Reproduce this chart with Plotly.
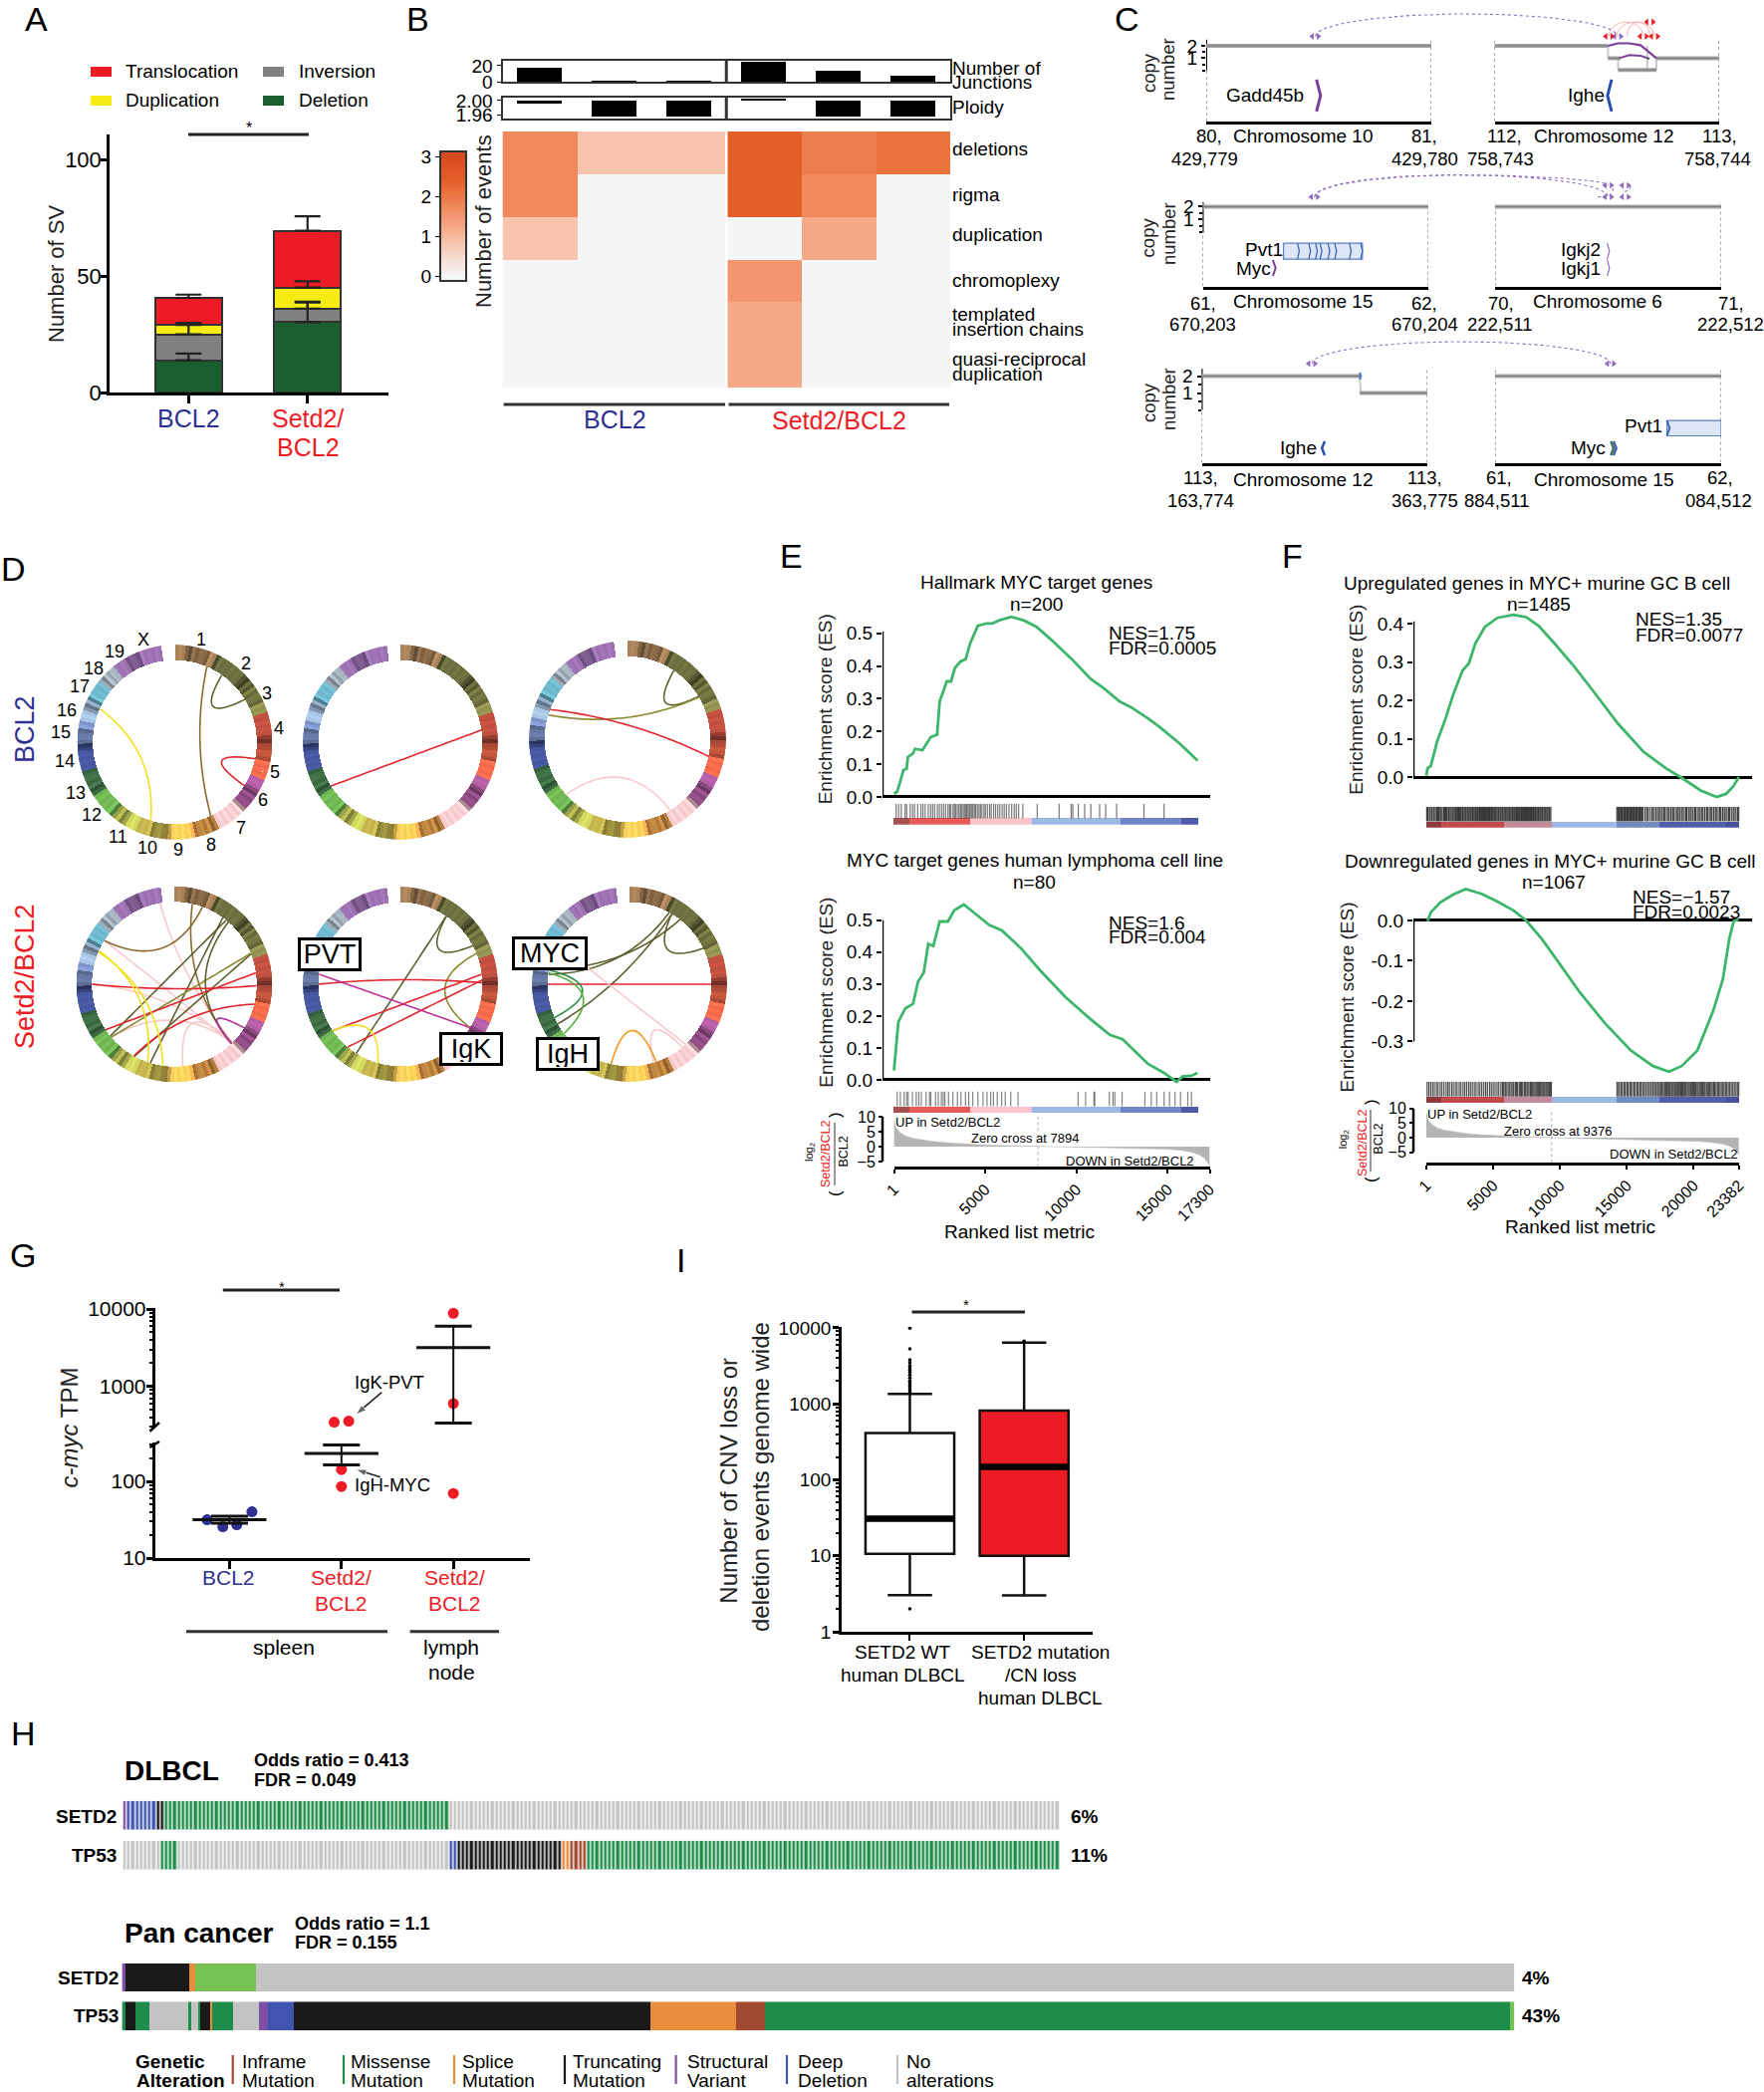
import math
import numpy as np
import plotly.graph_objects as go

W, H = 1771, 2100
FONT = "Liberation Sans"
RED, BLUE = "#ED1C24", "#2E3192"

# ---------- Panel A
sv_groups = [0, 1]
sv_deletion = [13.8, 30.2]
sv_inversion = [11.2, 5.8]
sv_duplication = [4.0, 9.0]
sv_translocation = [11.6, 24.4]
sv_err_del = [2.9, 8.4]
sv_err_inv = [4.8, 3.0]
sv_err_dup = [0.8, 2.7]
sv_err_tra = [1.4, 6.2]

# ---------- Panel B
b_rows = ["deletions", "rigma", "duplication", "chromoplexy", "templated", "quasi"]
b_events = [
    [1.7, 0.85, 0.85, 2.4, 1.9, 2.1],
    [1.7, 0, 0, 2.4, 1.7, 0],
    [0.85, 0, 0, 0, 1.2, 0],
    [0, 0, 0, 1.5, 0, 0],
    [0, 0, 0, 1.2, 0, 0],
    [0, 0, 0, 1.2, 0, 0],
]
b_junctions = [17, 0.5, 0.5, 25, 14, 7]
b_ploidy = [1.992, 1.956, 1.956, 2.006, 1.956, 1.956]
b_scale = [[0, "#F4F5F7"], [0.283, "#F7C4AE"], [0.4, "#F5A988"], [0.5, "#F39670"], [0.567, "#F08A5C"],
           [0.633, "#EE7E4E"], [0.7, "#EB733C"], [0.8, "#E25F27"], [1, "#D84B20"]]

# ---------- Panel D
chr_names = ["1","2","3","4","5","6","7","8","9","10","11","12","13","14","15","16","17","18","19","X"]
chr_sizes = [195,182,160,156,152,150,145,129,124,131,122,120,120,125,104,98,95,91,61,171]
chr_colors = ["#A9825A","#6B6F3F","#8F9150","#BF4F3E","#F0694A","#B45FA5","#F4C9CC","#EDA54F","#F7CF5A","#C3B34E",
              "#D2D860","#6FB653","#4F8A57","#4657A0","#7E94C9","#A8C5E4","#6DB6CB","#CBDDE9","#9A70B0","#9A70B0"]
band_shades = [1, .82, 1.06, .7, 1, 1.1, .78, 1, .6, 1.05, .9, 1, .74, 1.08, .85]
OL, OL2, BR, RD, PK, YL = "#5F6030", "#8A8A30", "#8B6A2E", "#E0262B", "#F9C9CC", "#F0E020"
links = [
    [(23,154,BR,.2),(35,58.6,OL,.3),(101.7,122,RD,.25),(294,197,YL,.25)],
    [(81.5,237.7,RD,None)],
    [(34,59,OL,.3),(59.6,287,OL2,.12),(291,102,RD,.25),(228,149,PK,.17)],
    [(350,135,PK,.1),(302,136,PK,.1),(270,135,PK,.1),(230,135,PK,.2),(174,135,PK,.1),
     (12.7,136,BR,.1),(20,302,BR,.15),(36,197,OL,None),(39,231,OL,None),(68.5,209,OL,None),(68,230,OL2,None),(41,136,OL,.08),
     (82,236.5,RD,None),(91,270,RD,.1),(104,209.4,RD,.3),(122,136,"#B0309B",.35),(294,199,YL,.25),(293,188,YL,.2)],
    [(34,212.6,OL,None),(34,62,OL,.3),(68,122,OL2,.2),(83,235.5,RD,None),(87,220,RD,None),(89,270,RD,.1),
     (277,122,"#C0309B",None),(235.5,196,YL,.4)],
    [(31,241,OL,.04),(38,281,OL,.2),(29,277,OL,.15),(31,64,OL,.3),(90,270,RD,.1),(280,246,"#2E8B45",.2),(278,233,"#55B040",.25),
     (299,137,PK,None),(140,163,PK,.3),(193,161,"#F09A20",.17)],
]
circles_labels = [("PVT",330.7,958),("IgK",473,1053),("MYC",552,957),("IgH",570,1058)]
chr_label_pos = [(202,642),(247,666),(268,696),(280,731),(276,775),(264,803),(242,831),(212,848),(179,853.5),(148,851),
                 (118,839.5),(92,818),(76,795.6),(65,764),(61,735),(67,712.5),(80,689),(93.5,671),(115,653.5),(144,642)]

# ---------- Panels E / F
e1_rank = [1,175,350,520,695,765,1045,1150,1565,1810,2020,2365,2505,2680,2890,3130,3340,3650,3930,4175,4595,5045,5395,5740,6440,7135,7830,8700,9745,10790,11480,12355,13050,13920,14615,15660,16635]
e1_es = [.01,.016,.048,.082,.086,.122,.133,.147,.143,.163,.183,.19,.292,.319,.353,.353,.394,.414,.421,.469,.523,.53,.53,.539,.55,.539,.519,.476,.421,.36,.333,.292,.272,.24,.211,.163,.111]
e2_rank = [1,245,625,1045,1325,1635,1880,2160,2505,2960,3305,3830,4525,5220,5915,6960,8005,9400,10790,11830,12530,13920,14790,15485,15835,16285,16635]
e2_es = [.029,.182,.224,.238,.308,.336,.426,.419,.496,.496,.531,.549,.517,.485,.468,.412,.343,.259,.189,.141,.127,.05,.022,-.006,.011,.0125,.022]
f1_rank = [1,95,335,810,1425,2000,2710,3180,3660,4370,5320,6510,7460,8410,9595,11020,12445,14345,16245,17910,19095,20520,21710,22420,22990,23370]
f1_es = [.003,.023,.029,.093,.151,.214,.278,.296,.348,.391,.415,.423,.417,.394,.348,.29,.226,.139,.066,.023,-.002,-.035,-.052,-.044,-.023,0]
f2_rank = [95,335,1045,2000,2945,4130,5320,6510,7460,8645,10070,11495,13395,15295,16960,18145,19095,20280,21470,22180,22660,22990,23370]
f2_es = [-.002,.02,.045,.064,.078,.066,.047,.025,0,-.046,-.112,-.179,-.256,-.322,-.361,-.375,-.361,-.322,-.223,-.146,-.046,-.002,.003]

e1_hits = [120,260,400,610,700,890,1020,1130,1300,1480,1590,1710,1880,2010,2120,2230,2380,2490,2610,2720,2830,2960,3050,3120,3240,3310,3380,3470,3560,3640,3700,3790,3860,3930,3990,4060,4130,4190,4270,4330,4410,4480,4570,4660,4740,4820,4930,5010,5120,5240,5330,5460,5570,5690,5800,5930,6040,6160,6300,6450,6590,6700,6830,7060,7850,9050,9710,9800,10100,10450,10790,11270,11600,12200,13700,14800]
e2_hits = [180,350,560,700,780,1010,1220,1360,1500,1760,1950,2020,2280,2430,2600,2700,2790,2990,3230,3480,3670,3920,4100,4320,4600,4880,5100,5300,5450,5660,5900,6100,6400,6800,10090,10500,10960,11000,11800,12000,12100,12500,13750,14100,14400,14800,15100,15400,15700,16100,16300]
f1_hits = [30,120,230,300,410,520,590,680,790,860,940,1030,1110,1190,1300,1370,1450,1520,1630,1690,1780,1860,1950,2020,2100,2190,2260,2350,2430,2490,2580,2670,2730,2820,2900,2960,3050,3120,3190,3270,3340,3420,3480,3560,3640,3700,3780,3850,3930,3990,4070,4140,4220,4280,4360,4430,4510,4570,4650,4730,4790,4870,4940,5010,5090,5160,5220,5300,5380,5440,5520,5590,5670,5730,5810,5890,5950,6030,6100,6180,6240,6320,6400,6460,6540,6610,6690,6750,6830,6900,6980,7060,7120,7200,7270,7350,7410,7490,7560,7640,7700,7780,7860,7920,8000,8070,8150,8210,8290,8370,8430,8510,8580,8660,8720,8800,8880,8940,9020,9090,9170,9230,9310,
           14250,14330,14410,14470,14560,14630,14690,14780,14860,14920,15010,15080,15140,15230,15310,15370,15450,15530,15590,15680,15750,15810,15900,15980,16040,16120,16200,16350,16480,16560,16700,16850,16930,17050,17180,17300,17420,17510,17640,17760,17830,17960,18090,18170,18300,18420,18500,18630,18760,18840,18950,19080,19160,19290,19410,19490,19620,19740,19820,19950,20070,20150,20280,20410,20490,20620,20700,20830,20960,21040,21170,21290,21370,21500,21620,21700,21830,21950,22030,22160,22280,22360,22490,22610,22690,22820,22950,23030,23160,23280,23370]
f2_hits = [60,190,330,470,600,760,880,1040,1170,1320,1480,1610,1730,1890,2020,2170,2300,2460,2590,2750,2880,3020,3170,3300,3440,3590,3720,3880,4010,4150,4300,4440,4570,4730,4860,5000,5140,5290,5420,5580,5700,5760,5880,5950,6040,6170,6250,6350,6470,6540,6660,6740,6830,6950,7040,7120,7210,7330,7410,7520,7590,7680,7790,7860,7950,8040,8120,8210,8290,8370,8450,8540,8630,8710,8790,8860,8950,9030,9110,9200,9280,9350,
           14260,14370,14450,14580,14660,14790,14880,15000,15090,15220,15310,15420,15540,15630,15760,15850,15970,16070,16190,16300,16410,16540,16630,16760,16840,16960,17070,17160,17280,17360,17450,17560,17640,17730,17830,17910,18000,18090,18160,18240,18330,18400,18480,18570,18640,18720,18800,18870,18950,19040,19110,19190,19280,19350,19430,19520,19600,19680,19770,19840,19930,20010,20090,20170,20260,20340,20430,20510,20600,20680,20770,20850,20950,21030,21120,21210,21300,21390,21490,21570,21670,21780,21860,21970,22070,22180,22270,22380,22480,22590,22700,22810,22930,23040,23160,23270,23370]
e_stripe_w = [870,3310,3380,4870,3310,905]
e_stripe_c = ["#A85050","#E85A5A","#F9C4CC","#9DB8E4","#7085C8","#4F5BA8"]
f_stripe_w = [1140,4660,3560,4850,3230,4990,950]
f_stripe_c = ["#8E3A3A","#C24A4A","#C48A98","#9DB8E4","#6F8BC0","#4F5FA8","#48509C"]
rank_e_x = [1,100,300,600,1000,1500,2000,3000,4000,5000,6000,7000,7894,9000,10000,11000,12000,13000,14000,15000,15800,16300,16700,17000,17300]
rank_e_y = [9.5,6.5,4.8,3.6,2.8,2.2,1.8,1.2,.8,.5,.3,.12,0,-.1,-.2,-.3,-.4,-.55,-.7,-.9,-1.3,-1.9,-2.7,-3.8,-6.3]
rank_f_x = [1,150,400,800,1300,2000,3000,4000,5000,6500,8000,9376,11000,13000,15000,17000,19000,20500,21500,22200,22700,23100,23382]
rank_f_y = [8.5,6,4.5,3.4,2.6,2,1.4,1,.7,.4,.15,0,-.15,-.3,-.5,-.7,-.95,-1.3,-1.7,-2.2,-2.9,-4,-6]

# ---------- Panel G
g_bcl2 = [31.6,25.6,27.2,40.2]
g_bcl2_off = [-.2,-.06,.065,.2]
g_spleen = [344,354,143,86]
g_spleen_off = [-.065,.065,0,0]
g_node = [8790,598,69.8]
g_means = [31.6,232,3177]
g_hi = [35.3,300,5980]
g_lo = [28.6,165,334]

# ---------- Panel I
i_q1, i_med, i_q3 = [10.6,10], [30.7,148], [412,817]
i_lo, i_hi = [3.04,3], [1350,6400]
i_out_wt = [9900,5300,3800,3500,3200,3000,2800,2600,2400,2200,2000,1900,1800,1700,1600,1500,1400,2]
i_out_mut = [6500,6700]

# ---------- Panel H
onco_cats = ["none","inframe","missense","splice","trunc","sv","deep","missense2"]
onco_cols = ["#C3C3C3","#A04A32","#1E8C4A","#E98C3C","#1A1A1A","#7F4FA5","#3F55B0","#76C153"]
dl_setd2_t = ["sv","deep","trunc","missense","none"]
dl_setd2_n = [1,7,2,68,146]
dl_tp53_t = ["none","missense","none","deep","trunc","splice","inframe","missense"]
dl_tp53_n = [9,4,65,2,25,2,4,113]
pc_setd2_t = ["sv","trunc","splice","missense2","none"]
pc_setd2_n = [4,62,6,60,1238]
pc_tp53_t = ["missense","trunc","missense","none","missense","none","missense","trunc","splice","missense","none","sv","deep","trunc","splice","inframe","missense","missense2"]
pc_tp53_n = [4,9,14,38,3,7,2,10,2,21,25,9,25,352,84,29,734,4]

fig = go.Figure()
L = {}
shapes, notes = [], []
nax = [0]

def fx(px): return px / W
def fy(py): return 1 - py / H

def axes(x0, x1, ytop, ybot, xa=None, ya=None):
    nax[0] += 1
    n = nax[0]
    base = dict(showgrid=False, zeroline=False, tickfont=dict(family=FONT, size=19, color="black"), automargin=False,
                showline=False, ticks="", showticklabels=False, linecolor="black", tickcolor="black")
    a = dict(base); a.update(domain=[fx(x0), fx(x1)], anchor=f"y{n}"); a.update(xa or {})
    b = dict(base); b.update(domain=[fy(ybot), fy(ytop)], anchor=f"x{n}"); b.update(ya or {})
    L[f"xaxis{n}"] = a
    L[f"yaxis{n}"] = b
    return f"x{n}", f"y{n}"

def note(px, py, text, size=19, color="black", anchor="center", angle=0):
    if anchor == "left":
        px -= 2
    notes.append(dict(xref="paper", yref="paper", x=fx(px), y=fy(py), text=text, showarrow=False, xanchor=anchor,
                      yanchor="middle", textangle=angle, font=dict(family=FONT, size=size, color=color)))

def pline(x0, y0, x1, y1, color="black", width=2.5, dash=None):
    shapes.append(dict(type="line", xref="paper", yref="paper", x0=fx(x0), y0=fy(y0), x1=fx(x1), y1=fy(y1),
                       line=dict(color=color, width=width, dash=dash)))

def prect(x0, y0, x1, y1, color):
    shapes.append(dict(type="rect", xref="paper", yref="paper", x0=fx(x0), y0=fy(y0), x1=fx(x1), y1=fy(y1),
                       fillcolor=color, line=dict(width=0)))

def line(xa, ya, x, y, color="black", width=2, dash=None, **k):
    fig.add_trace(go.Scatter(x=x, y=y, mode="lines", xaxis=xa, yaxis=ya, line=dict(color=color, width=width, dash=dash),
                             hoverinfo="skip", **k))

for t, x, y in [("A",36,19),("B",419,19),("C",1131,19),("D",13,571),("E",794,558),("F",1297,558),("G",23,1260),("I",683,1265),("H",23,1740)]:
    note(x, y, t, size=34)

# ---- A
xa, ya = axes(110, 390, 135, 394,
              dict(range=[-.664, 1.68], showline=True, linewidth=3, ticks="outside", ticklen=8, tickwidth=2.5, tickvals=sv_groups),
              dict(range=[0, 110.7], showline=True, linewidth=2.5, ticks="outside", ticklen=6, tickwidth=2.5, tickvals=[0,50,100],
                   showticklabels=True, ticklabelstandoff=-5, tickfont=dict(family=FONT, size=22, color="black")))
sv_layers = [sv_deletion, sv_inversion, sv_duplication, sv_translocation]
sv_errs = [sv_err_del, sv_err_inv, sv_err_dup, sv_err_tra]
for vals, c in zip(sv_layers, ["#1A5E2E","#808080","#F5EC14",RED]):
    fig.add_trace(go.Bar(x=sv_groups, y=vals, width=.56, marker=dict(color=c, line=dict(color="#333", width=2)), xaxis=xa, yaxis=ya))
tops = np.cumsum(np.array(sv_layers), axis=0)
for top, e in zip(tops, sv_errs):
    fig.add_trace(go.Scatter(x=sv_groups, y=top, mode="markers", marker=dict(size=1, color="rgba(0,0,0,0)"), xaxis=xa, yaxis=ya,
                             error_y=dict(type="data", array=e, symmetric=False, arrayminus=[0,0], color="#222", thickness=2.2, width=13)))
for (sx, sy, c, t, tx) in [(91,67,RED,"Translocation",126),(264,67,"#808080","Inversion",300),(91,96,"#F5EC14","Duplication",126),(264,96,"#1A5E2E","Deletion",300)]:
    prect(sx, sy, sx+21, sy+10, c)
    note(tx, sy+5, t, anchor="left")
pline(189,135,310,135,"#222",3)
note(250,129,"*",16)
note(57,275,"Number of SV",22,"#222",angle=-90)
note(189,420,"BCL2",25,BLUE); note(309,420,"Setd2/",25,RED); note(309,449,"BCL2",25,RED)

# ---- B
xa, ya = axes(504.5, 954, 61, 82, dict(range=[-.5,5.5], showline=True, mirror=True, linewidth=2, linecolor="#333"),
              dict(range=[0,26], showline=True, mirror=True, linewidth=2, linecolor="#333", ticks="outside", ticklen=4, tickvals=[0,20], showticklabels=True))
fig.add_trace(go.Bar(x=list(range(6)), y=b_junctions, width=.6, marker_color="black", xaxis=xa, yaxis=ya))
line(xa, ya, [2.5,2.5], [0,26], "#333", 3)
xa, ya = axes(504.5, 954, 98, 119, dict(range=[-.5,5.5], showline=True, mirror=True, linewidth=2, linecolor="#333"),
              dict(range=[1.951,2.008], showline=True, mirror=True, linewidth=2, linecolor="#333", ticks="outside", ticklen=4,
                   tickvals=[1.96,2.00], ticktext=["1.96","2.00"], showticklabels=True))
fig.add_trace(go.Bar(x=list(range(6)), y=[round(p-2,3) for p in b_ploidy], base=2.0, width=.6, marker_color="black", xaxis=xa, yaxis=ya))
line(xa, ya, [2.5,2.5], [1.951,2.008], "#333", 3)
xa, ya = axes(504.5, 954, 132, 389, dict(range=[-.5,5.5]), dict(range=[5.5,-.5]))
fig.add_trace(go.Heatmap(z=b_events, x=list(range(6)), y=list(range(6)), zmin=0, zmax=3, colorscale=b_scale, showscale=False, xaxis=xa, yaxis=ya))
line(xa, ya, [2.5,2.5], [-.5,5.5], "white", 2.5)
cb_vals = [round(v,2) for v in np.linspace(-.1,3.1,65)]
xa, ya = axes(443, 467, 153, 281, dict(range=[0,1], showline=True, mirror=True, linewidth=2, linecolor="#333"),
              dict(range=[-.1,3.1], showline=True, mirror=True, linewidth=2, linecolor="#333", ticks="outside", ticklen=4, tickvals=[0,1,2,3], showticklabels=True))
fig.add_trace(go.Heatmap(z=[[max(v,0)] for v in cb_vals], x=[.5], y=cb_vals, zmin=0, zmax=3, colorscale=b_scale, showscale=False, xaxis=xa, yaxis=ya))
note(485,222,"Number of events",22,"#222",angle=-90)
for t,y in [("Number of",68),("Junctions",83),("Ploidy",108),("deletions",150),("rigma",195),("duplication",236),("chromoplexy",281),
            ("templated",315),("insertion chains",330),("quasi-reciprocal",360),("duplication",376)]:
    note(956,y,t,anchor="left")
pline(505.7,406,728,406,"#333",3); pline(731.5,406,953,406,"#333",3)
note(617,420.7,"BCL2",25,BLUE); note(842,421.7,"Setd2/BCL2",25,RED)

# ---- C
PUR = "#8E6BBF"
def cpanel(x0, x1, ytop, ybot, cn0, unit, labels, ylab, left):
    lo, hi = (cn0-ybot)/unit, (cn0-ytop)/unit
    yy = dict(range=[lo,hi])
    if left:
        yy.update(tickvals=[1,2], ticktext=["1","2"], ticks="outside", ticklen=4, tickwidth=2, showticklabels=True,
                  minor=dict(ticks="outside", ticklen=3, tickwidth=1.5, tickcolor="black", tickvals=[0,.5,1.5]))
    xa, ya = axes(x0, x1, ytop, ybot, dict(range=[0,1], showline=True, linewidth=2.5), yy)
    line(xa, ya, [0,0], [lo,hi], "#555", 1, "dot")
    line(xa, ya, [1,1], [lo,hi], "#555", 1, "dot")
    if left:
        line(xa, ya, [0,0], [0,hi], "black", 2)
    for (t, px), y in zip(labels, ylab*2):
        note(px, y, t, 18.5)
    return xa, ya

def cn(xa, ya, x0, x1, v):
    line(xa, ya, [x0,x1], [v,v], "#A6A6A6", 4)
    line(xa, ya, [x0,x1], [v,v], "#777777", 1)

def chevron(xa, ya, x, y0, y1, color, dx=.012, width=2.5):
    line(xa, ya, [x, x+dx, x], [y0,(y0+y1)/2,y1], color, width)

def gene(xa, ya, x, y, t):
    notes.append(dict(xref=xa, yref=ya, x=x, y=y, text=t, showarrow=False, xanchor="center", yanchor="middle", font=dict(family=FONT, size=19, color="black")))

def genebox(xa, ya, x0, x1, y0, y1):
    fig.add_trace(go.Scatter(x=[x0,x1,x1,x0,x0], y=[y0,y0,y1,y1,y0], mode="lines", fill="toself", fillcolor="#DCE6F5",
                             line=dict(color="#5B7FC8", width=1.2), xaxis=xa, yaxis=ya, hoverinfo="skip"))

R1, R2, R3 = (136.5,159), (304,326), (480,502)
xa, ya = cpanel(1211,1437,39.5,122,70.8,12.4,[("80,",1214),("429,779",1209),("81,",1430),("429,780",1430)],R1,True)
cn(xa,ya,0,1,2); gene(xa,ya,.26,-2.03,"Gadd45b"); chevron(xa,ya,.49,-.74,-3.32,"#7B3F98",.018,3)
xa, ya = cpanel(1500.5,1726,39.5,122,70.8,12.4,[("112,",1510),("758,743",1506),("113,",1726.6),("758,744",1724)],R1,False)
for x,y in [([.505,.505],[2,1]),([.55,.55],[1,.05]),([.68,.68],[2,.05]),([.72,.72],[.05,1])]:
    line(xa,ya,x,y,"#C8C8C8",2)
cn(xa,ya,0,.505,2); cn(xa,ya,.505,.56,1); cn(xa,ya,.55,.72,.05); cn(xa,ya,.72,1,1)
line(xa,ya,[.505,.55,.6,.65,.68,.72],[2,2.2,2.2,2.05,1.6,1],"#7B3F98",2.2)
line(xa,ya,[.555,.6,.65,.69],[1,1.25,1.2,.95],"#7B3F98",2)
gene(xa,ya,.406,-2.03,"Ighe"); chevron(xa,ya,.521,-.74,-3.32,"#2E4FB0",-.018,3)

xa, ya = cpanel(1207.5,1434,203,287.5,233.4,13,[("61,",1207.5),("670,203",1207.5),("62,",1430),("670,204",1430)],R2,True)
cn(xa,ya,0,1,2); genebox(xa,ya,.358,.708,-.82,-2.05)
for x in [.42,.47,.50,.52,.555,.585,.65,.70]:
    chevron(xa,ya,x,-.82,-2.05,"#3E63B8",.008,1.3)
gene(xa,ya,.272,-1.33,"Pvt1"); gene(xa,ya,.226,-2.74,"Myc"); chevron(xa,ya,.311,-2.12,-3.35,"#7B3F98",.012,2)
xa, ya = cpanel(1501,1728,203,287.5,233.4,13,[("70,",1507),("222,511",1506),("71,",1737.5),("222,512",1737.5)],R2,False)
cn(xa,ya,0,1,2); gene(xa,ya,.381,-1.33,"Igkj2"); gene(xa,ya,.381,-2.74,"Igkj1")
chevron(xa,ya,.496,-.82,-2.05,"#8E6BBF",.01,1.2); chevron(xa,ya,.496,-2.12,-3.35,"#8E6BBF",.01,1.2)

xa, ya = cpanel(1206.5,1433,370,464.5,411.5,17,[("113,",1205),("163,774",1205),("113,",1430),("363,775",1430)],R3,True)
line(xa,ya,[.70,.705],[2,1],"#C8C8C8",2)
cn(xa,ya,0,.70,2); cn(xa,ya,.70,1,1); line(xa,ya,[.70,.705,.70],[2.2,2,1.8],"#5B7FC8",2.5)
gene(xa,ya,.43,-2.21,"Ighe"); chevron(xa,ya,.545,-1.85,-2.68,"#2E4FB0",-.012,2.5)
xa, ya = cpanel(1501,1728,370,464.5,411.5,17,[("61,",1505),("884,511",1502.5),("62,",1726.6),("084,512",1725)],R3,False)
cn(xa,ya,0,1,2); genebox(xa,ya,.76,1,-.62,-1.53); chevron(xa,ya,.76,-.62,-1.53,"#3E63B8",.012,2)
gene(xa,ya,.656,-.97,"Pvt1"); gene(xa,ya,.414,-2.21,"Myc"); chevron(xa,ya,.513,-1.85,-2.68,"#3E7A5A",.012,3); chevron(xa,ya,.525,-1.85,-2.68,"#3E4FB0",.012,2)
for x,y,t in [(1308,136.5,"Chromosome 10"),(1609.6,136.5,"Chromosome 12"),(1308,302.7,"Chromosome 15"),(1603.7,302.7,"Chromosome 6"),(1308,481.4,"Chromosome 12"),(1609.6,481.4,"Chromosome 15")]:
    note(x,y,t)
for y0,y1 in [(72.6,70),(238,235),(403.7,401)]:
    note(1153.4,y0,"copy",18.5,"#222",angle=-90); note(1173,y1,"number",18.5,"#222",angle=-90)

def arc(xa, ya, x0, x1, y0, y1, top, color=PUR, width=1.1, dash="dot"):
    t = np.linspace(0, math.pi, 50)
    xs = x0 + (x1-x0)*(1-np.cos(t))/2
    base = y0 + (y1-y0)*(1-np.cos(t))/2
    ys = base + (top-base)*np.sin(t)
    line(xa, ya, xs, ys, color, width, dash)

def ends(xa, ya, xs, ys, color, syms=("triangle-left","triangle-right")):
    for s, dx in zip(syms, (-.006,.006)):
        fig.add_trace(go.Scatter(x=[v+dx for v in xs], y=ys, mode="markers", marker=dict(symbol=s, size=6, color=color), xaxis=xa, yaxis=ya, hoverinfo="skip"))

ov = dict(range=[0,1])
xa, ya = axes(1211,1726,10,40,dict(ov),dict(ov))
arc(xa,ya,.2126,.802,.117,.117,.867)
for a,b in [(.785,.852),(.8,.874),(.82,.865)]:
    arc(xa,ya,a,b,.117,.117,.6,"#F4A0A0",.8,"solid")
ends(xa,ya,[.2126,.802],[.117,.117],PUR); ends(xa,ya,[.785,.852,.874],[.117,.117,.117],"#E8202A"); ends(xa,ya,[.865],[.6],"#E8202A")
xa, ya = axes(1207.5,1728,170,205,dict(ov),dict(ov))
arc(xa,ya,.2153,.7821,.21,.21,.837); arc(xa,ya,.2153,.7821,.21,.54,.84)
arc(xa,ya,.762,.762+.03,.21,.54,.2) 
arc(xa,ya,.81,.825,.21,.54,.37)
ends(xa,ya,[.2153,.7821,.7821,.815,.815],[.21,.21,.54,.54,.21],PUR)
xa, ya = axes(1206.5,1728,340,370,dict(ov),dict(ov))
arc(xa,ya,.212,.787,.167,.167,.9)
ends(xa,ya,[.212,.787],[.167,.167],PUR)

# ---- D
def shade(hexc, f):
    r,g,b = [int(hexc[i:i+2],16) for i in (1,3,5)]
    return f"rgb({min(255,int(r*f))},{min(255,int(g*f))},{min(255,int(b*f))})"

total = sum(chr_sizes)
SPAN = 352.0
theta, widths, band_col = [], [], []
start = 0.0
for ci,(s,c) in enumerate(zip(chr_sizes, chr_colors)):
    span = s/total*SPAN
    n = max(3, int(round(span/2.2)))
    for j in range(n):
        w = span/n
        theta.append(start + (j+.5)*w); widths.append(w)
        band_col.append(shade(c, band_shades[(j*2 + ci*3) % len(band_shades)]))
    start += span

def chord(a1, a2, rc, R=.84):
    a,b = math.radians(a1), math.radians(a2)
    p0 = np.array([math.sin(a),math.cos(a)])*R
    p1 = np.array([math.sin(b),math.cos(b)])*R
    m = np.array([math.sin(a)+math.sin(b), math.cos(a)+math.cos(b)])
    m = m/(np.hypot(*m)+1e-9)
    c = (p0+p1)/2 if rc is None else m*rc*R
    t = np.linspace(0,1,40)[:,None]
    pts = (1-t)**2*p0 + 2*t*(1-t)*c + t**2*p1
    return np.hypot(pts[:,0],pts[:,1]), np.degrees(np.arctan2(pts[:,0],pts[:,1]))

centers = [(175.5,745,98),(402,745,98),(630,742,99),(175,988,98.5),(402,988,98),(632,988,98)]
for i,((cx,cy,R),lk) in enumerate(zip(centers,links)):
    name = "polar" if i==0 else f"polar{i+1}"
    L[name] = dict(domain=dict(x=[fx(cx-R),fx(cx+R)], y=[fy(cy+R),fy(cy-R)]), bgcolor="rgba(0,0,0,0)",
                   radialaxis=dict(visible=False, range=[0,1]), angularaxis=dict(visible=False, direction="clockwise", rotation=90))
    fig.add_trace(go.Barpolar(r=[.16]*len(theta), base=.84, theta=theta, width=widths, marker=dict(color=band_col, line=dict(width=0)), subplot=name, hoverinfo="skip"))
    for a1,a2,c,rc in lk:
        r,th = chord(a1,a2,rc)
        fig.add_trace(go.Scatterpolar(r=r, theta=th, mode="lines", line=dict(color=c, width=1.6), subplot=name, hoverinfo="skip"))
for t,(x,y) in zip(chr_names, chr_label_pos):
    note(x,y,t,18)
for t,x,y in circles_labels:
    notes.append(dict(xref="paper",yref="paper",x=fx(x),y=fy(y),xanchor="center",yanchor="middle",text=t,showarrow=False,bgcolor="white",
                      bordercolor="black",borderwidth=3,borderpad=1,width=(68 if t=="MYC" else 56),height=26,
                      font=dict(family=FONT,size=27,color="black")))
note(25,732,"BCL2",27,BLUE,angle=-90); note(25,980,"Setd2/BCL2",27,RED,angle=-90)

# ---- E/F
GREEN = "#3DB56B"
def es(xd, xr, y0px, scale, lo, hi, tick, axlo, axhi, rk, val):
    top, bot = y0px-hi*scale, y0px-lo*scale
    xa, ya = axes(xd[0], xd[1], top, bot, dict(range=xr),
                  dict(range=[lo,hi], zeroline=True, zerolinewidth=3, zerolinecolor="black", ticks="outside", ticklen=5, tickwidth=2,
                       tickvals=tick, ticktext=[f"{v:.1f}" for v in tick], showticklabels=True))
    line(xa, ya, [xr[0],xr[0]], [axlo,axhi], "black", 2.5)
    line(xa, ya, rk, val, GREEN, 2.8)

def barcode(xd, xr, top, bot, hits, sw, sc, alpha):
    xa, ya = axes(xd[0], xd[1], top, bot, dict(range=xr), dict(range=[0,3.35]))
    xs, ys = [], []
    for h in hits:
        xs += [h,h,None]; ys += [1,3.35,None]
    line(xa, ya, xs, ys, f"rgba(30,30,30,{alpha})", 1.2)
    fig.add_trace(go.Bar(y=[.5]*len(sw), x=sw, orientation="h", width=1, marker=dict(color=sc, line=dict(width=0)), xaxis=xa, yaxis=ya))

def rankplot(xd, xr, top, bot, y0px, unit, yfree, ticks, rx, ry, zero):
    xa, ya = axes(xd[0], xd[1], top, bot,
                  dict(range=xr, showline=True, linewidth=3, ticks="outside", ticklen=4, tickwidth=2, tickvals=ticks, ticktext=[str(t) for t in ticks],
                       showticklabels=True, tickangle=-45, tickfont=dict(family=FONT,size=16,color="black")),
                  dict(range=[(y0px-bot)/unit,(y0px-top)/unit], anchor="free", position=fx(yfree), ticks="outside", ticklen=4, tickwidth=2,
                       tickvals=[-5,0,5,10], showticklabels=True, tickfont=dict(family=FONT,size=16,color="black")))
    fig.add_trace(go.Scatter(x=rx, y=ry, mode="lines", fill="tozeroy", fillcolor="#B5B5B5", line=dict(color="#B5B5B5",width=.5), xaxis=xa, yaxis=ya, hoverinfo="skip"))
    line(xa, ya, [zero,zero], [(y0px-bot)/unit,10], "#AAAAAA", 1, "dot")
    pline(yfree,y0px-10*unit,yfree,y0px+5*unit,"black",2.5)

ex, fxr = [-627,17300], [-968,24328]
ed, fd = (886,1214.5), (1419,1758.5)
es(ed, ex, 800, 328.6, -.02, .57, [0,.1,.2,.3,.4,.5], 0, .505, e1_rank, e1_es)
es(ed, ex, 1084, 320.6, -.02, .57, [0,.1,.2,.3,.4,.5], 0, .5, e2_rank, e2_es)
es(fd, fxr, 780, 385, -.06, .44, [0,.1,.2,.3,.4], 0, .406, f1_rank, f1_es)
es(fd, fxr, 924, 404.9, -.39, .09, [0,-.1,-.2,-.3], -.3, 0, f2_rank, f2_es)
barcode(ed, ex, 806.7, 827.7, e1_hits, e_stripe_w, e_stripe_c, .6)
barcode(ed, ex, 1095.5, 1117, e2_hits, e_stripe_w, e_stripe_c, .55)
barcode(fd, fxr, 809.8, 830.8, f1_hits, f_stripe_w, f_stripe_c, .85)
barcode(fd, fxr, 1085.7, 1107, f2_hits, f_stripe_w, f_stripe_c, .8)
rankplot((897.5,1214.5), [1,17300], 1118, 1171.4, 1150.9, 3, 886, [1,5000,10000,15000,17300], rank_e_x, rank_e_y, 7894)
rankplot((1432,1745.8), [1,23382], 1110, 1167.4, 1142, 2.93, 1419, [1,5000,10000,15000,20000,23382], rank_f_x, rank_f_y, 9376)
for t,x,y,a in [("UP in Setd2/BCL2",899,1126,"left"),("Zero cross at 7894",1029,1142,"center"),("DOWN in Setd2/BCL2",1134,1165.6,"center"),
              ("UP in Setd2/BCL2",1433,1118,"left"),("Zero cross at 9376",1564,1135.7,"center"),("DOWN in Setd2/BCL2",1680,1158,"center")]:
    note(x,y,t,13,anchor=a)
for lx,lc,sx,sc,bx,bc,fl,p0,p1 in [(813,1157,829,1159,846.5,1156,838,1119,1198),(1348.5,1143.7,1368,1148,1384,1143.7,1376,1106,1184)]:
    note(lx,lc,"log<sub>2</sub>",11,angle=-90); note(sx,sc,"Setd2/BCL2",12.5,RED,angle=-90); note(bx,bc,"BCL2",12.5,angle=-90)
    pline(fl,p0+8,fl,p1-8,"#333",1)
    note(fl,p0,")",17,angle=-90); note(fl,p1,"(",17,angle=-90)
for x,y in [(1024,1236),(1586,1231)]:
    note(x,y,"Ranked list metric")
for x,y in [(828.7,711.6),(828.7,996),(1362,702.7),(1351.6,1001)]:
    note(x,y,"Enrichment score (ES)",19,"#222",angle=-90)
for t,x,y in [("Hallmark MYC target genes",1040,584),("n=200",1040,606),("MYC target genes human lymphoma cell line",1038.5,863.4),("n=80",1038.5,885.7),
              ("Upregulated genes in MYC+ murine GC B cell",1543,585),("n=1485",1545,607),("Downregulated genes in MYC+ murine GC B cell",1556,864),("n=1067",1559.5,885.7)]:
    note(x,y,t)
for t,x,y in [("NES=1.75",1112.5,635),("FDR=0.0005",1112.5,650),("NES=1.6",1112.5,926),("FDR=0.004",1112.5,940.6),
              ("NES=1.35",1641.8,621.4),("FDR=0.0077",1641.8,637),("NES=\u22121.57",1639,900.4),("FDR=0.0023",1639,915)]:
    note(x,y,t,anchor="left")

# ---- G
def minor(decades):
    return [m*d for d in decades for m in range(2,10)]
xu, yu = axes(155.5,532,1312.7,1434.3, dict(range=[-.667,2.684]),
              dict(type="log", range=[2.45,4.017], showline=True, linewidth=2.5, ticks="outside", ticklen=6, tickwidth=2.5, tickvals=[1000,10000], ticktext=["1000","10000"],
                   showticklabels=True, ticklabelstandoff=-4, tickfont=dict(family=FONT,size=21,color="black"), minor=dict(ticks="outside", ticklen=3, tickwidth=1.5, tickcolor="black", tickvals=minor([100,1000]))))
xl, yl = axes(155.5,532,1448,1564, dict(range=[-.667,2.684], showline=True, linewidth=3, ticks="outside", ticklen=8, tickwidth=2.5, tickvals=[0,1,2]),
              dict(type="log", range=[1,2.509], showline=True, linewidth=2.5, ticks="outside", ticklen=6, tickwidth=2.5, tickvals=[10,100], ticktext=["10","100"],
                   showticklabels=True, ticklabelstandoff=-4, tickfont=dict(family=FONT,size=21,color="black"), minor=dict(ticks="outside", ticklen=3, tickwidth=1.5, tickcolor="black", tickvals=minor([10,100]))))
BREAK = 300
def g_pts(xs, ys, c):
    hi_x=[x for x,y in zip(xs,ys) if y>=BREAK]; hi_y=[y for y in ys if y>=BREAK]
    lo_x=[x for x,y in zip(xs,ys) if y<BREAK]; lo_y=[y for y in ys if y<BREAK]
    for a,b,X,Y in [(xu,yu,hi_x,hi_y),(xl,yl,lo_x,lo_y)]:
        if X:
            fig.add_trace(go.Scatter(x=X,y=Y,mode="markers",marker=dict(color=c,size=11),xaxis=a,yaxis=b,hoverinfo="skip"))
g_pts(g_bcl2_off, g_bcl2, "#2E3192")
g_pts([1+o for o in g_spleen_off], g_spleen, RED)
g_pts([2,2,2], g_node, RED)
for i,(m,h,l) in enumerate(zip(g_means,g_hi,g_lo)):
    a,b = (xu,yu) if m>=BREAK else (xl,yl)
    line(a,b,[i-.33,i+.33],[m,m],"#111",3)
    line(a,b,[i-.165,i+.165],[h,h],"#111",3)
    line(a,b,[i-.165,i+.165],[l,l],"#111",3)
    line(a,b,[i,i],[l,h],"#111",2)
pline(150.4,1436.7,160,1428); pline(150.4,1453,160,1447)
note(229.6,1583,"BCL2",21,BLUE)
for x in (342.6,456):
    note(x,1583,"Setd2/",21,RED); note(x,1609,"BCL2",21,RED)
pline(187,1637.7,389,1637.7,"#333",3); pline(411.6,1637.7,501,1637.7,"#333",3)
note(284.7,1653,"spleen",21); note(453,1653,"lymph",21); note(453,1678,"node",21)
pline(223.8,1295,341,1295,"#222",3); note(283,1291,"*",15)
note(69.7,1432.7,"<i>c-myc</i> TPM",24,"#222",angle=-90)
note(391,1387.7,"IgK-PVT",18.5); note(394,1490.7,"IgH-MYC",18.5)
for a,b,X,Y in [(xu,yu,[1.36,1.129],[837,432]),(xl,yl,[1.347,1.129],[113.8,143.4])]:
    fig.add_trace(go.Scatter(x=X,y=Y,mode="lines+markers",xaxis=a,yaxis=b,hoverinfo="skip",line=dict(color="#222",width=1.6),
                             marker=dict(symbol=["circle","arrow"],size=[1,11],angleref="previous",color="#222")))

# ---- I
xa, ya = axes(845,1097,1332,1638, dict(range=[-.597,1.6], showline=True, linewidth=3, ticks="outside", ticklen=6, tickwidth=2, tickvals=[0,1]),
              dict(type="log", range=[0,4.013], showline=True, linewidth=2.5, ticks="outside", ticklen=6, tickwidth=2.5, tickvals=[1,10,100,1000,10000],
                   ticktext=["1","10","100","1000","10000"], showticklabels=True, ticklabelstandoff=-2, minor=dict(ticks="outside", ticklen=3, tickwidth=1.5, tickcolor="black", tickvals=minor([1,10,100,1000]))))
for i,(c,out) in enumerate(zip(["white",RED],[i_out_wt,i_out_mut])):
    fig.add_trace(go.Box(x=[i], q1=[i_q1[i]], median=[i_med[i]], q3=[i_q3[i]], lowerfence=[i_lo[i]], upperfence=[i_hi[i]], width=.777, whiskerwidth=.5,
                         fillcolor=c, line=dict(color="#111",width=2.5), boxpoints=False, xaxis=xa, yaxis=ya, hoverinfo="skip"))
    line(xa,ya,[i-.388,i+.388],[i_med[i],i_med[i]],"#000",6.5)
    fig.add_trace(go.Scatter(x=[i]*len(out), y=out, mode="markers", marker=dict(color="black",size=3.6), xaxis=xa, yaxis=ya, hoverinfo="skip"))
pline(915.6,1317,1029,1317,"#222",3); note(970,1309,"*",15)
note(732,1486.7,"Number of CNV loss or",24,"#222",angle=-90); note(763,1483,"deletion events genome wide",24,"#222",angle=-90)
for t,x,y in [("SETD2 WT",906,1658),("human DLBCL",906,1681.7),("SETD2 mutation",1044.8,1658),("/CN loss",1044.8,1681.7),("human DLBCL",1044.8,1704)]:
    note(x,y,t)

# ---- H
def onco(x0,x1,top,bot,types,counts,gap):
    seq = np.repeat([onco_cats.index(t) for t in types], counts)
    xa, ya = axes(x0,x1,top,bot, dict(range=[-.5,len(seq)-.5]), dict(range=[-.5,.5]))
    n = len(onco_cats)-1
    scale = []
    for i,c in enumerate(onco_cols):
        scale += [[max(0,(i-.5)/n),c],[min(1,(i+.5)/n),c]]
    fig.add_trace(go.Heatmap(z=[seq.tolist()], zmin=0, zmax=n, colorscale=scale, showscale=False, xgap=gap, xaxis=xa, yaxis=ya, hoverinfo="skip"))

onco(123.5,1064,1807.7,1836.7,dl_setd2_t,dl_setd2_n,1.4)
onco(123.5,1064,1847.7,1876.7,dl_tp53_t,dl_tp53_n,1.4)
onco(122.4,1520.4,1971,1999.3,pc_setd2_t,pc_setd2_n,0)
onco(122.4,1520.4,2009.3,2038.3,pc_tp53_t,pc_tp53_n,0)
note(124.5,1777.7,"<b>DLBCL</b>",28,anchor="left"); note(124.5,1940.7,"<b>Pan cancer</b>",28,anchor="left")
for t,x,y in [("Odds ratio = 0.413",255,1767),("FDR = 0.049",255,1787),("Odds ratio = 1.1",296,1931),("FDR = 0.155",296,1950)]:
    note(x,y,f"<b>{t}</b>",18,anchor="left")
for t,x,y in [("SETD2",119.4,1823.7),("TP53",119.4,1862),("SETD2",121,1985),("TP53",121,2023.3)]:
    note(x,y,f"<b>{t}</b>",19,anchor="right")
for t,x,y in [("6%",1074.5,1823.7),("11%",1074.5,1862),("4%",1527.5,1985),("43%",1527.5,2023.3)]:
    note(x,y,f"<b>{t}</b>",19,anchor="left")
note(171.4,2069,"<b>Genetic</b>"); note(181,2088,"<b>Alteration</b>")
for a,b,lx,tx,c in [("Inframe","Mutation",233.7,243,"#A04A32"),("Missense","Mutation",345,352,"#1E8C4A"),("Splice","Mutation",456,464,"#E98C3C"),
                    ("Truncating","Mutation",567,574.5,"#1A1A1A"),("Structural","Variant",678.6,690,"#7F4FA5"),("Deep","Deletion",790,801,"#3F55B0"),("No","alterations",901,910,"#C3C3C3")]:
    pline(lx,2063,lx,2092,c,2.2)
    note(tx,2069,a,anchor="left"); note(tx,2088,b,anchor="left")

fig.update_layout(template="none", width=W, height=H, autosize=False, margin=dict(l=0,r=0,t=0,b=0,pad=0), paper_bgcolor="white", plot_bgcolor="rgba(0,0,0,0)",
                  showlegend=False, barmode="stack", boxmode="overlay", shapes=shapes, annotations=notes, font=dict(family=FONT), **L)
fig.write_html("out.html", config={"displayModeBar": False}, post_script="document.body.style.margin='0';")
